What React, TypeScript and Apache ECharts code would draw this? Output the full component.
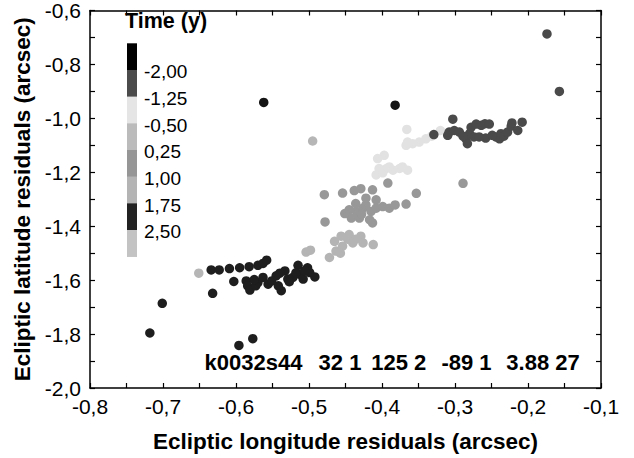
import React, { useEffect, useRef } from 'react';
import * as echarts from 'echarts';

const FONT = '"Liberation Sans", Arial, Helvetica, sans-serif';

const X_TITLE = 'Ecliptic longitude residuals (arcsec)';
const Y_TITLE = 'Ecliptic latitude residuals (arcsec)';
const LEGEND_TITLE = 'Time (y)';
const LEGEND_LABELS = ['-2,00', '-1,25', '-0,50', '0,25', '1,00', '1,75', '2,50'];
const LEGEND_COLORS = ['#000000', '#4b4b4b', '#e5e5e5', '#bbbbbb', '#969696', '#b4b4b4', '#222222', '#c3c3c3'];
const ANNOTATION_PARTS = ['k0032s44', '32 1', '125 2', '-89 1', '3.88 27'];

// [longitude, latitude] residuals (arcsec)
const blackCluster: number[][] = [
  [-0.634, -1.562], [-0.623, -1.562], [-0.609, -1.557], [-0.595, -1.554], [-0.582, -1.550], [-0.570, -1.545],
  [-0.563, -1.538], [-0.558, -1.526], [-0.603, -1.605], [-0.586, -1.603], [-0.584, -1.621], [-0.581, -1.637],
  [-0.570, -1.609], [-0.563, -1.590], [-0.556, -1.615], [-0.545, -1.584], [-0.538, -1.639], [-0.533, -1.566],
  [-0.529, -1.596], [-0.522, -1.590], [-0.515, -1.545], [-0.513, -1.578], [-0.508, -1.596], [-0.502, -1.554],
  [-0.499, -1.572], [-0.492, -1.588], [-0.632, -1.649], [-0.701, -1.686], [-0.718, -1.796], [-0.596, -1.842],
  [-0.577, -1.817], [-0.527, -1.606], [-0.518, -1.573], [-0.506, -1.566], [-0.551, -1.603], [-0.542, -1.621],
  [-0.573, -1.621], [-0.575, -1.598], [-0.540, -1.574],
];
const blackOutliers: number[][] = [[-0.562, -0.941], [-0.382, -0.951]];
const darkCluster: number[][] = [
  [-0.329, -1.060], [-0.310, -1.063], [-0.308, -1.051], [-0.303, -1.003], [-0.301, -1.045], [-0.294, -1.051],
  [-0.285, -1.076], [-0.283, -1.094], [-0.280, -1.057], [-0.278, -1.033], [-0.271, -1.021], [-0.274, -1.069],
  [-0.264, -1.026], [-0.259, -1.020], [-0.253, -1.021], [-0.258, -1.073], [-0.267, -1.069], [-0.244, -1.069],
  [-0.239, -1.076], [-0.237, -1.057], [-0.233, -1.066], [-0.228, -1.051], [-0.223, -1.029], [-0.222, -1.017],
  [-0.214, -1.045], [-0.208, -1.014], [-0.289, -1.066], [-0.249, -1.063], [-0.157, -0.900], [-0.174, -0.687],
];
const paleCluster: number[][] = [
  [-0.366, -1.041], [-0.320, -1.045], [-0.365, -1.088], [-0.358, -1.094], [-0.349, -1.088], [-0.340, -1.076],
  [-0.332, -1.066], [-0.367, -1.100], [-0.397, -1.137], [-0.406, -1.149], [-0.404, -1.186], [-0.394, -1.186],
  [-0.385, -1.192], [-0.376, -1.186], [-0.365, -1.192], [-0.408, -1.210], [-0.399, -1.202], [-0.390, -1.180],
  [-0.372, -1.180],
];
const midCluster: number[][] = [
  [-0.479, -1.283], [-0.454, -1.277], [-0.438, -1.268], [-0.429, -1.261], [-0.413, -1.265], [-0.392, -1.240],
  [-0.367, -1.318], [-0.353, -1.278], [-0.478, -1.384], [-0.289, -1.241], [-0.445, -1.339], [-0.435, -1.345],
  [-0.426, -1.333], [-0.422, -1.321], [-0.415, -1.345], [-0.408, -1.333], [-0.399, -1.327], [-0.390, -1.333],
  [-0.382, -1.321], [-0.442, -1.370], [-0.431, -1.370], [-0.417, -1.376], [-0.413, -1.388], [-0.422, -1.296],
  [-0.408, -1.302], [-0.436, -1.316], [-0.451, -1.353], [-0.428, -1.356],
];
const lightCluster: number[][] = [
  [-0.504, -1.496], [-0.498, -1.489], [-0.472, -1.516], [-0.465, -1.456], [-0.456, -1.437], [-0.445, -1.431],
  [-0.429, -1.437], [-0.426, -1.462], [-0.440, -1.462], [-0.463, -1.492], [-0.412, -1.468], [-0.454, -1.474],
  [-0.447, -1.448], [-0.436, -1.448], [-0.457, -1.500],
];
const lightOutliers: number[][] = [[-0.495, -1.084], [-0.651, -1.574]];

const fmt = (v: number) => v.toFixed(1).replace('.', ',');

export default function App() {
  const ref = useRef<HTMLDivElement>(null);
  useEffect(() => {
    if (!ref.current) return;
    const chart = echarts.init(ref.current, null, { renderer: 'svg' });
    const axisLine = { show: true, onZero: false, lineStyle: { color: '#000', width: 1.5 } };
    const tick = { show: true, inside: true, length: 5, lineStyle: { color: '#000', width: 1.2 } };
    const minor = { show: true, splitNumber: 2, length: 5, lineStyle: { color: '#000', width: 1.2 } };
    const labelStyle = { color: '#000', fontFamily: FONT, fontSize: 21 };
    const scatter = (data: number[][], color: string) => ({
      type: 'scatter', data, symbol: 'circle', symbolSize: 9.5, silent: true,
      itemStyle: { color, opacity: 1 },
    });
    const blockH = 26.67;
    const barTop = 43.3;
    const annX = [204.6, 318.6, 371.2, 441.4, 506.3];
    const graphic: any[] = [];
    LEGEND_COLORS.forEach((c, i) => {
      graphic.push({ type: 'rect', shape: { x: 127, y: barTop + i * blockH, width: 10, height: blockH + 0.3 }, style: { fill: c } });
    });
    LEGEND_LABELS.forEach((t, i) => {
      graphic.push({ type: 'text', x: 144, y: barTop + (i + 1) * blockH + 2,
        style: { text: t, fill: '#000', font: `19px ${FONT}`, align: 'left', verticalAlign: 'middle', textAlign: 'left', textVerticalAlign: 'middle' } });
    });
    graphic.push({ type: 'text', x: 125, y: 21,
      style: { text: LEGEND_TITLE, fill: '#000', font: `bold 21.5px ${FONT}`, align: 'left', verticalAlign: 'middle', textAlign: 'left', textVerticalAlign: 'middle' } });
    ANNOTATION_PARTS.forEach((t, i) => {
      graphic.push({ type: 'text', x: annX[i], y: 362,
        style: { text: t, fill: '#000', font: `bold 22px ${FONT}`, align: 'left', verticalAlign: 'middle', textAlign: 'left', textVerticalAlign: 'middle' } });
    });
    chart.setOption({
      animation: false,
      backgroundColor: '#fff',
      grid: { left: 90, right: 33, top: 7, bottom: 70, containLabel: false },
      xAxis: [
        { type: 'value', min: -0.8, max: -0.1, interval: 0.1, position: 'bottom',
          name: X_TITLE, nameLocation: 'middle', nameGap: 42,
          nameTextStyle: { color: '#000', fontFamily: FONT, fontSize: 22.5, fontWeight: 'bold' },
          axisLine, axisTick: tick, minorTick: minor, splitLine: { show: false },
          axisLabel: { ...labelStyle, margin: 8, formatter: fmt } },
        { type: 'value', min: -0.8, max: -0.1, interval: 0.1, position: 'top',
          axisLine, axisTick: tick, minorTick: minor, splitLine: { show: false }, axisLabel: { show: false } },
      ],
      yAxis: [
        { type: 'value', min: -2.0, max: -0.6, interval: 0.2, position: 'left',
          name: Y_TITLE, nameLocation: 'middle', nameGap: 52,
          nameTextStyle: { color: '#000', fontFamily: FONT, fontSize: 22.5, fontWeight: 'bold' },
          axisLine, axisTick: tick, minorTick: minor, splitLine: { show: false },
          axisLabel: { ...labelStyle, margin: 9, formatter: fmt } },
        { type: 'value', min: -2.0, max: -0.6, interval: 0.2, position: 'right',
          axisLine, axisTick: tick, minorTick: minor, splitLine: { show: false }, axisLabel: { show: false } },
      ],
      series: [
        scatter(lightOutliers, '#b6b6b6'),
        scatter(paleCluster, '#e2e2e2'),
        scatter(midCluster, '#989898'),
        scatter(lightCluster, '#b4b4b4'),
        scatter(darkCluster, '#4a4a4a'),
        scatter(blackCluster, '#1e1e1e'),
        scatter(blackOutliers, '#141414'),
      ],
      graphic,
    });
    return () => chart.dispose();
  }, []);
  return <div ref={ref} style={{ position: 'fixed', left: 0, top: 0, width: 634, height: 458, background: '#fff' }} />;
}
